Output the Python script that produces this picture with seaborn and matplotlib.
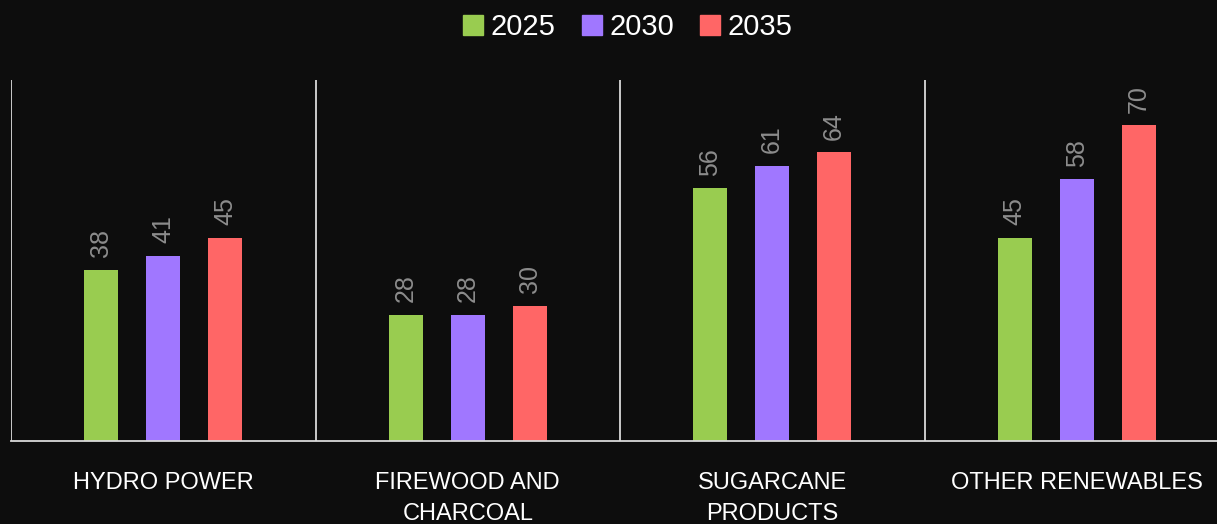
"""Renewable energy outlook grouped bar chart on a dark background."""

import matplotlib
import matplotlib.pyplot as plt
import pandas as pd
import seaborn as sns
from matplotlib.lines import Line2D

matplotlib.use("Agg")

categories = ["HYDRO POWER", "FIREWOOD AND\nCHARCOAL", "SUGARCANE\nPRODUCTS", "OTHER RENEWABLES"]
years = ["2025", "2030", "2035"]
values_2025 = [38, 28, 56, 45]
values_2030 = [41, 28, 61, 58]
values_2035 = [45, 30, 64, 70]

colors = ["#99CC50", "#A077FF", "#FF6666"]
bg = "#0D0D0D"
line_color = "#D9D9D9"

df = pd.DataFrame({
    "category": categories * 3,
    "year": [y for y in years for _ in categories],
    "value": values_2025 + values_2030 + values_2035,
})

sns.set_theme(style="dark")
plt.rcParams["font.family"] = ["Liberation Sans", "DejaVu Sans"]

fig = plt.figure(figsize=(12.17, 5.24), dpi=100, facecolor=bg)
ax = fig.add_axes([11 / 1217, 83 / 524, 1218 / 1217, 361 / 524])
ax.set_facecolor(bg)

sns.barplot(
    data=df, x="category", y="value", hue="year",
    palette=colors, width=0.61, gap=0.45, ax=ax, legend=False,
    saturation=1, linewidth=0,
)

for container in ax.containers:
    ax.bar_label(container, rotation=90, padding=9, color="#8C8C8C", fontsize=18)

ax.set_ylim(0, 80)
ax.set_xlim(-0.5, 3.5)
ax.set_xlabel("")
ax.set_ylabel("")
ax.set_yticks([])
ax.grid(False)

for side in ["top", "right", "left"]:
    ax.spines[side].set_visible(False)
ax.spines["bottom"].set_color(line_color)
ax.spines["bottom"].set_linewidth(1.3)

for xb in [-0.5, 0.5, 1.5, 2.5, 3.5]:
    ax.axvline(xb, color=line_color, linewidth=1.3)

ax.tick_params(axis="x", length=0, pad=22, colors="white", labelsize=17)
for lbl in ax.get_xticklabels():
    lbl.set_linespacing(1.55)

handles = [
    Line2D([], [], marker="s", linestyle="", markersize=14, color=c, label=y)
    for c, y in zip(colors, years)
]
fig.legend(
    handles=handles, loc="upper center", bbox_to_anchor=(0.514, 1.025), ncol=3,
    frameon=False, fontsize=21, labelcolor="white", handletextpad=0.1,
    columnspacing=0.75, handlelength=1.0,
)

fig.savefig("out.png", dpi=100, facecolor=bg)
